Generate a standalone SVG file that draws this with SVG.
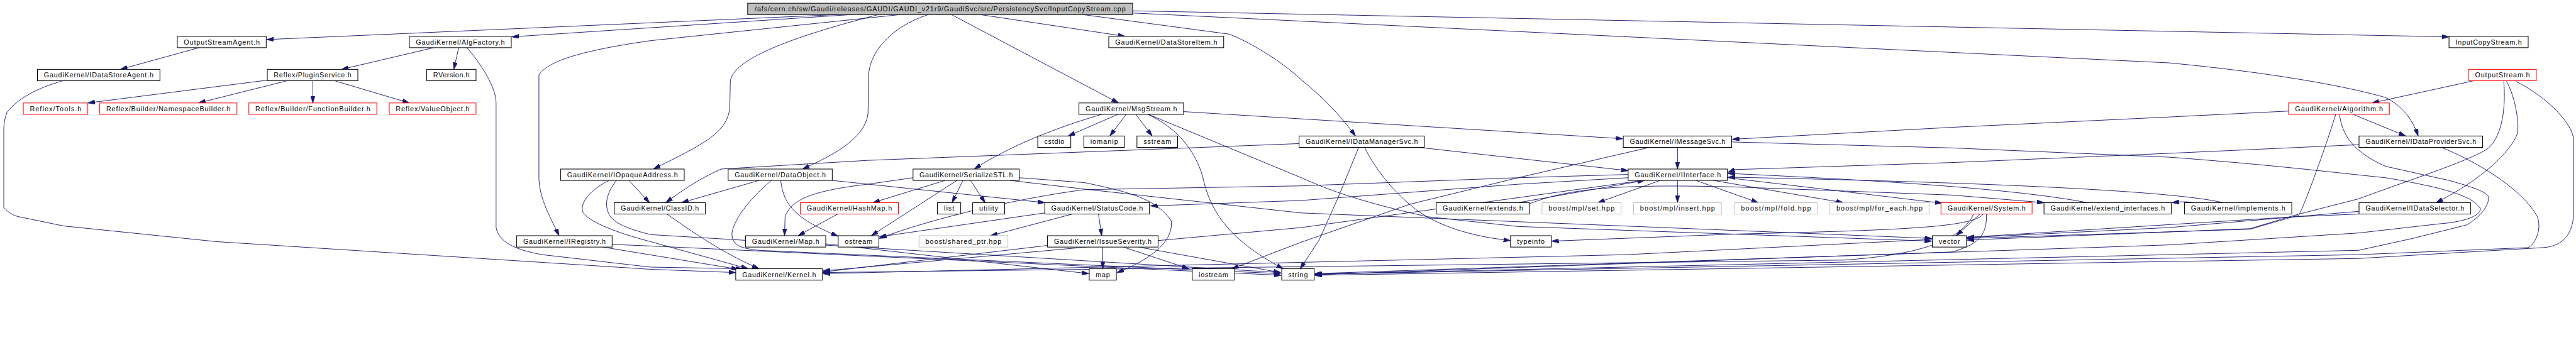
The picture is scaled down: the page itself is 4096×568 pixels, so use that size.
<svg xmlns="http://www.w3.org/2000/svg" width="4096" height="568" viewBox="0 0 4096 568">
<style>
.n rect{fill:#fff;stroke:#000;stroke-width:1.2}
.r rect{fill:#fff;stroke:#f00;stroke-width:1.2}
.g rect{fill:#fff;stroke:#bfbfbf;stroke-width:1.2}
.root rect{fill:#bfbfbf;stroke:#000;stroke-width:1.2}
text{font-family:"Liberation Sans","DejaVu Sans",sans-serif;font-size:12.5px;fill:#000}
#edges path{fill:none;stroke:#191970;stroke-width:1.1;marker-end:url(#a)}
</style>
<defs>
<marker id="a" markerWidth="13" markerHeight="8" refX="13" refY="4" orient="auto" markerUnits="userSpaceOnUse"><path d="M0,0 L13,4 L0,8 z" fill="#191970" stroke="#191970"/></marker>
</defs>
<rect width="4096" height="568" fill="#fff"/>
<g transform="scale(0.8621)">
<g id="edges">
<path d="M1545,27 L492,73"/>
<path d="M1570,27 L944,68"/>
<path d="M1620,27 C1453,70 1352,110 1347,150 L1346,200 C1340,245 1300,265 1205,312"/>
<path d="M1660,27 L1200,75 C1060,95 1010,115 994,138 L994,330 C996,370 1015,400 1031,435"/>
<path d="M1712,27 C1640,50 1603,100 1602,140 L1601,210 C1595,255 1540,285 1480,312"/>
<path d="M1755,27 L2063,190"/>
<path d="M1808,27 L2075,67"/>
<path d="M1990,26 L2267,63 C2300,75 2360,110 2400,147 C2440,180 2470,210 2500,251"/>
<path d="M2089,20 L4517,68"/>
<path d="M2089,24 L4000,116 C4200,135 4330,160 4400,180 C4430,195 4450,220 4460,251"/>
<path d="M367,88 L222,128"/>
<path d="M116,149 C67,163 33,182 13,207 C8,220 7,230 7,240 L7,383 C15,392 25,398 35,400 L117,417 L400,446 L1200,497 L1357,503"/>
<path d="M800,88 L630,128"/>
<path d="M846,88 L837,128"/>
<path d="M861,88 C885,115 915,160 915,190 L915,420 C920,445 945,460 1000,470 L1200,493 L1370,496"/>
<path d="M493,148 L162,190"/>
<path d="M530,149 L366,190"/>
<path d="M577,149 L577,190"/>
<path d="M617,149 L755,190"/>
<path d="M1160,333 L1198,374"/>
<path d="M1123,333 C1080,355 1070,380 1075,392 C1090,412 1140,430 1200,446 L1380,496"/>
<path d="M1137,333 C1115,360 1112,390 1133,407 C1150,420 1180,428 1200,433 L2362,503"/>
<path d="M1112,456 L1362,497"/>
<path d="M1129,451 L1200,454 L2363,508"/>
<path d="M1230,395 C1280,430 1330,465 1400,496"/>
<path d="M1400,333 L1257,374"/>
<path d="M1423,333 C1390,360 1355,400 1350,430 C1350,450 1360,458 1400,462 L2362,505"/>
<path d="M1440,333 C1445,380 1470,405 1546,436"/>
<path d="M1535,333 L1927,374"/>
<path d="M2396,265 L1600,296 L1330,312 C1290,330 1260,350 1228,374"/>
<path d="M2506,272 L2467,367 L2433,443 L2398,496"/>
<path d="M2517,272 C2530,300 2560,345 2607,383 C2640,410 2700,435 2786,444"/>
<path d="M2617,272 L3003,315"/>
<path d="M2032,211 C1950,235 1860,270 1797,312"/>
<path d="M2062,211 L1970,251"/>
<path d="M2077,211 L2047,251"/>
<path d="M2095,211 L2125,251"/>
<path d="M2117,211 C2180,240 2210,290 2220,333 C2235,400 2280,450 2367,496"/>
<path d="M2118,211 L2400,328 C2450,350 2500,370 2633,400 L2800,418 L3563,445"/>
<path d="M2183,206 L2993,256"/>
<path d="M3094,272 L3094,312"/>
<path d="M3038,273 L2800,328 L2600,377 L2400,447 L2272,496"/>
<path d="M3194,262 L3600,273 L4000,290 C4200,305 4300,318 4400,328 C4500,345 4560,360 4575,385 C4575,400 4540,410 4500,413 L4350,430 L4000,452 L2425,505"/>
<path d="M3062,333 L2947,374"/>
<path d="M3094,333 L3094,374"/>
<path d="M3128,333 L3243,374"/>
<path d="M3160,333 L3400,374"/>
<path d="M3186,328 L3582,375"/>
<path d="M3003,328 L2800,340 L2400,370 L2122,380"/>
<path d="M3003,322 L2800,328 L2400,343 L2000,350 C1850,370 1700,410 1622,440"/>
<path d="M3030,333 L2400,420 L1518,500"/>
<path d="M2800,374 L3033,333"/>
<path d="M2821,376 C2900,345 3000,340 3200,345 L3600,360 L3770,374"/>
<path d="M4100,374 C4000,350 3600,335 3187,327"/>
<path d="M4045,374 C4035,372 4025,372 4006,374"/>
<path d="M3850,374 C3700,345 3400,330 3187,320"/>
<path d="M4351,267 L4000,283 L3600,300 L3200,313 L3187,318"/>
<path d="M3652,395 L3608,435"/>
<path d="M3658,395 C3640,420 3500,425 3200,432 L2862,445"/>
<path d="M3664,395 C3664,430 3655,450 3600,465 L2425,507"/>
<path d="M3640,395 C3620,440 3550,470 3400,480 L1518,503"/>
<path d="M4340,211 L4437,251"/>
<path d="M4221,205 L4000,216 L3600,235 L3195,257"/>
<path d="M4308,211 C4290,270 4250,380 4240,397 L4150,423 L3628,440"/>
<path d="M4315,211 C4320,250 4340,280 4400,307 L4517,333 C4560,345 4590,355 4590,365 C4590,380 4575,400 4550,415 L4450,440 L4350,462 L2425,506"/>
<path d="M4563,149 L4375,190"/>
<path d="M4618,150 C4622,200 4615,250 4590,273 C4560,295 4450,330 4350,367 L4233,397 L4150,422 L3628,443"/>
<path d="M4623,150 C4640,180 4647,230 4643,247 C4630,280 4580,330 4493,374"/>
<path d="M4640,150 C4700,180 4747,230 4747,260 L4747,393 C4745,440 4720,455 4690,457 L4350,477 L2425,508"/>
<path d="M4503,272 C4560,295 4650,345 4680,400 C4690,430 4670,455 4663,457 L4350,470 L2425,506"/>
<path d="M4351,395 L4233,400 L3628,438"/>
<path d="M4351,390 L4000,420 L3000,470 L1518,505"/>
<path d="M2034,456 L2034,496"/>
<path d="M2072,456 L2193,496"/>
<path d="M2100,456 L2362,503"/>
<path d="M1932,453 L1518,502"/>
<path d="M2026,395 L2032,435"/>
<path d="M1978,395 L1827,435"/>
<path d="M1927,393 L1622,437"/>
<path d="M1743,333 L1610,374"/>
<path d="M1776,333 L1756,374"/>
<path d="M1790,333 L1817,374"/>
<path d="M1765,333 L1607,435"/>
<path d="M1684,328 L1600,340 C1500,352 1460,367 1448,400 L1447,435"/>
<path d="M1880,328 L2000,337 C2097,357 2133,370 2160,407 C2165,440 2133,475 2060,503"/>
<path d="M1863,333 L2000,349 L2400,393 L3563,440"/>
<path d="M1545,395 L1472,435"/>
<path d="M1523,450 L2008,505"/>
</g>
<g id="n_root" class="root"><rect x="1379" y="6" width="710" height="21"/><text x="1392" y="21" textLength="684">/afs/cern.ch/sw/Gaudi/releases/GAUDI/GAUDI_v21r9/GaudiSvc/src/PersistencySvc/InputCopyStream.cpp</text></g>
<g id="n_osa" class="n"><rect x="327" y="67" width="164" height="21"/><text x="339" y="82" textLength="140">OutputStreamAgent.h</text></g>
<g id="n_af" class="n"><rect x="755" y="67" width="188" height="21"/><text x="767" y="82" textLength="164">GaudiKernel/AlgFactory.h</text></g>
<g id="n_dsi" class="n"><rect x="2045" y="67" width="212" height="21"/><text x="2057" y="82" textLength="188">GaudiKernel/DataStoreItem.h</text></g>
<g id="n_ics" class="n"><rect x="4517" y="67" width="146" height="21"/><text x="4529" y="82" textLength="122">InputCopyStream.h</text></g>
<g id="n_idsa" class="n"><rect x="69" y="128" width="226" height="21"/><text x="81" y="143" textLength="202">GaudiKernel/IDataStoreAgent.h</text></g>
<g id="n_ps" class="n"><rect x="493" y="128" width="167" height="21"/><text x="505" y="143" textLength="143">Reflex/PluginService.h</text></g>
<g id="n_rv" class="n"><rect x="787" y="128" width="91" height="21"/><text x="799" y="143" textLength="67">RVersion.h</text></g>
<g id="n_os" class="r"><rect x="4553" y="128" width="125" height="21"/><text x="4565" y="143" textLength="101">OutputStream.h</text></g>
<g id="n_tools" class="r"><rect x="43" y="190" width="119" height="21"/><text x="55" y="205" textLength="95">Reflex/Tools.h</text></g>
<g id="n_nsb" class="r"><rect x="184" y="190" width="253" height="21"/><text x="196" y="205" textLength="229">Reflex/Builder/NamespaceBuilder.h</text></g>
<g id="n_fb" class="r"><rect x="459" y="190" width="236" height="21"/><text x="471" y="205" textLength="212">Reflex/Builder/FunctionBuilder.h</text></g>
<g id="n_vo" class="r"><rect x="718" y="190" width="160" height="21"/><text x="730" y="205" textLength="136">Reflex/ValueObject.h</text></g>
<g id="n_msg" class="n"><rect x="1990" y="190" width="193" height="21"/><text x="2002" y="205" textLength="169">GaudiKernel/MsgStream.h</text></g>
<g id="n_alg" class="r"><rect x="4221" y="190" width="186" height="21"/><text x="4233" y="205" textLength="162">GaudiKernel/Algorithm.h</text></g>
<g id="n_cstdio" class="n"><rect x="1914" y="251" width="61" height="21"/><text x="1926" y="266" textLength="37">cstdio</text></g>
<g id="n_iomanip" class="n"><rect x="1999" y="251" width="75" height="21"/><text x="2011" y="266" textLength="51">iomanip</text></g>
<g id="n_sstream" class="n"><rect x="2097" y="251" width="75" height="21"/><text x="2109" y="266" textLength="51">sstream</text></g>
<g id="n_idm" class="n"><rect x="2396" y="251" width="231" height="21"/><text x="2408" y="266" textLength="207">GaudiKernel/IDataManagerSvc.h</text></g>
<g id="n_ims" class="n"><rect x="2994" y="251" width="200" height="21"/><text x="3006" y="266" textLength="176">GaudiKernel/IMessageSvc.h</text></g>
<g id="n_idp" class="n"><rect x="4351" y="251" width="228" height="21"/><text x="4363" y="266" textLength="204">GaudiKernel/IDataProviderSvc.h</text></g>
<g id="n_ioa" class="n"><rect x="1034" y="312" width="228" height="21"/><text x="1046" y="327" textLength="204">GaudiKernel/IOpaqueAddress.h</text></g>
<g id="n_do" class="n"><rect x="1343" y="312" width="192" height="21"/><text x="1355" y="327" textLength="168">GaudiKernel/DataObject.h</text></g>
<g id="n_sstl" class="n"><rect x="1684" y="312" width="196" height="21"/><text x="1696" y="327" textLength="172">GaudiKernel/SerializeSTL.h</text></g>
<g id="n_ii" class="n"><rect x="3003" y="312" width="183" height="21"/><text x="3015" y="327" textLength="159">GaudiKernel/IInterface.h</text></g>
<g id="n_cid" class="n"><rect x="1133" y="374" width="168" height="21"/><text x="1145" y="389" textLength="144">GaudiKernel/ClassID.h</text></g>
<g id="n_hm" class="r"><rect x="1476" y="374" width="181" height="21"/><text x="1488" y="389" textLength="157">GaudiKernel/HashMap.h</text></g>
<g id="n_list" class="n"><rect x="1729" y="374" width="43" height="21"/><text x="1741" y="389" textLength="19">list</text></g>
<g id="n_util" class="n"><rect x="1794" y="374" width="59" height="21"/><text x="1806" y="389" textLength="35">utility</text></g>
<g id="n_sc" class="n"><rect x="1927" y="374" width="193" height="21"/><text x="1939" y="389" textLength="169">GaudiKernel/StatusCode.h</text></g>
<g id="n_ext" class="n"><rect x="2649" y="374" width="172" height="21"/><text x="2661" y="389" textLength="148">GaudiKernel/extends.h</text></g>
<g id="n_set" class="g"><rect x="2844" y="374" width="146" height="21"/><text x="2856" y="389" textLength="122">boost/mpl/set.hpp</text></g>
<g id="n_ins" class="g"><rect x="3013" y="374" width="162" height="21"/><text x="3025" y="389" textLength="138">boost/mpl/insert.hpp</text></g>
<g id="n_fold" class="g"><rect x="3199" y="374" width="153" height="21"/><text x="3211" y="389" textLength="129">boost/mpl/fold.hpp</text></g>
<g id="n_fe" class="g"><rect x="3375" y="374" width="183" height="21"/><text x="3387" y="389" textLength="159">boost/mpl/for_each.hpp</text></g>
<g id="n_sys" class="r"><rect x="3580" y="374" width="168" height="21"/><text x="3592" y="389" textLength="144">GaudiKernel/System.h</text></g>
<g id="n_ei" class="n"><rect x="3770" y="374" width="235" height="21"/><text x="3782" y="389" textLength="211">GaudiKernel/extend_interfaces.h</text></g>
<g id="n_impl" class="n"><rect x="4029" y="374" width="198" height="21"/><text x="4041" y="389" textLength="174">GaudiKernel/implements.h</text></g>
<g id="n_ids" class="n"><rect x="4351" y="374" width="206" height="21"/><text x="4363" y="389" textLength="182">GaudiKernel/IDataSelector.h</text></g>
<g id="n_reg" class="n"><rect x="953" y="435" width="176" height="21"/><text x="965" y="450" textLength="152">GaudiKernel/IRegistry.h</text></g>
<g id="n_map" class="n"><rect x="1375" y="435" width="148" height="21"/><text x="1387" y="450" textLength="124">GaudiKernel/Map.h</text></g>
<g id="n_ostream" class="n"><rect x="1546" y="435" width="75" height="21"/><text x="1558" y="450" textLength="51">ostream</text></g>
<g id="n_sp" class="g"><rect x="1695" y="435" width="164" height="21"/><text x="1707" y="450" textLength="140">boost/shared_ptr.hpp</text></g>
<g id="n_is" class="n"><rect x="1932" y="435" width="204" height="21"/><text x="1944" y="450" textLength="180">GaudiKernel/IssueSeverity.h</text></g>
<g id="n_ti" class="n"><rect x="2786" y="435" width="75" height="21"/><text x="2798" y="450" textLength="51">typeinfo</text></g>
<g id="n_vec" class="n"><rect x="3564" y="435" width="63" height="21"/><text x="3576" y="450" textLength="39">vector</text></g>
<g id="n_kern" class="n"><rect x="1357" y="496" width="160" height="21"/><text x="1369" y="511" textLength="136">GaudiKernel/Kernel.h</text></g>
<g id="n_mapstd" class="n"><rect x="2009" y="496" width="50" height="21"/><text x="2021" y="511" textLength="26">map</text></g>
<g id="n_iostr" class="n"><rect x="2199" y="496" width="78" height="21"/><text x="2211" y="511" textLength="54">iostream</text></g>
<g id="n_str" class="n"><rect x="2364" y="496" width="60" height="21"/><text x="2376" y="511" textLength="36">string</text></g>
</g>
</svg>
